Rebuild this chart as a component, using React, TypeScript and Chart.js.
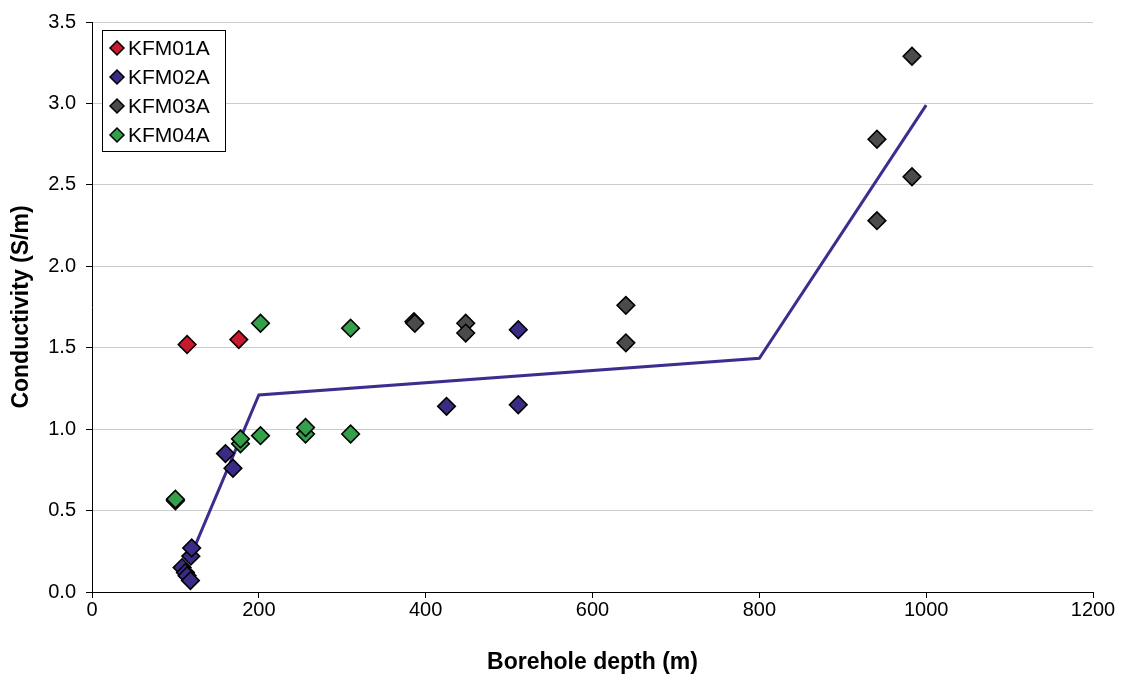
import React, { useEffect, useRef } from "react";
import { Chart, registerables } from "chart.js";

Chart.register(...registerables);

// Borehole conductivity measurements, depth in metres and conductivity in S/m
const kfm01aDepth = [114, 176];
const kfm01aCond = [1.52, 1.55];

const kfm02aDepth = [108, 112, 114, 118, 118.5, 119.5, 160, 169, 425, 511, 511];
const kfm02aCond = [0.15, 0.12, 0.1, 0.07, 0.22, 0.27, 0.85, 0.76, 1.14, 1.15, 1.61];

const kfm03aDepth = [386, 387, 448, 448, 640, 640, 941, 941, 983, 983];
const kfm03aCond = [1.66, 1.65, 1.65, 1.59, 1.76, 1.53, 2.78, 2.28, 3.29, 2.55];

const kfm04aDepth = [100, 100, 178, 178, 202, 202, 256, 256, 310, 310];
const kfm04aCond = [0.56, 0.57, 0.91, 0.94, 0.96, 1.65, 0.97, 1.01, 0.97, 1.62];

// Piecewise trend line
const trendDepth = [120, 200, 800, 1000];
const trendCond = [0.24, 1.21, 1.435, 2.99];

const xTicks = [0, 200, 400, 600, 800, 1000, 1200];
const yTicks = [0, 0.5, 1.0, 1.5, 2.0, 2.5, 3.0, 3.5];

const seriesNames = ["KFM01A", "KFM02A", "KFM03A", "KFM04A"];
const seriesColors = ["#c8192f", "#3b2a86", "#4b4b4b", "#35a04a"];

const FONT = "'Liberation Sans', Arial, sans-serif";

const toPoints = (xs: number[], ys: number[]) => xs.map((x, i) => ({ x, y: ys[i] }));

const diamondLegend = {
  id: "diamondLegend",
  afterDraw(chart: any) {
    const { ctx, chartArea } = chart;
    const left = chartArea.left + 10;
    const top = chartArea.top + 8;
    const w = 123;
    const h = 121;
    ctx.save();
    ctx.fillStyle = "#ffffff";
    ctx.fillRect(left, top, w, h);
    ctx.strokeStyle = "#000000";
    ctx.lineWidth = 1;
    ctx.strokeRect(left + 0.5, top + 0.5, w, h);
    ctx.font = `21px ${FONT}`;
    ctx.textBaseline = "middle";
    seriesNames.forEach((name, i) => {
      const cy = top + 18 + i * 29;
      const cx = left + 15;
      const r = 7;
      ctx.beginPath();
      ctx.moveTo(cx - r, cy);
      ctx.lineTo(cx, cy - r);
      ctx.lineTo(cx + r, cy);
      ctx.lineTo(cx, cy + r);
      ctx.closePath();
      ctx.fillStyle = seriesColors[i];
      ctx.fill();
      ctx.lineWidth = 1.5;
      ctx.strokeStyle = "#000000";
      ctx.stroke();
      ctx.fillStyle = "#000000";
      ctx.fillText(name, left + 26, cy + 1);
    });
    ctx.restore();
  },
};

export default function App() {
  const canvasRef = useRef<HTMLCanvasElement | null>(null);

  useEffect(() => {
    if (!canvasRef.current) return;
    const pointStyle = (i: number) => ({
      pointStyle: "rectRot" as const,
      pointRadius: 8.8,
      pointHoverRadius: 8.8,
      pointBackgroundColor: seriesColors[i],
      pointBorderColor: "#000000",
      pointBorderWidth: 1.6,
      backgroundColor: seriesColors[i],
      borderColor: "#000000",
      showLine: false,
    });
    const chart = new Chart(canvasRef.current, {
      type: "scatter",
      data: {
        datasets: [
          {
            label: "Trend",
            data: toPoints(trendDepth, trendCond),
            showLine: true,
            borderColor: "#3d2d8f",
            borderWidth: 3,
            pointRadius: 0,
            order: 5,
          },
          { label: seriesNames[0], data: toPoints(kfm01aDepth, kfm01aCond), order: 4, ...pointStyle(0) },
          { label: seriesNames[1], data: toPoints(kfm02aDepth, kfm02aCond), order: 3, ...pointStyle(1) },
          { label: seriesNames[2], data: toPoints(kfm03aDepth, kfm03aCond), order: 2, ...pointStyle(2) },
          { label: seriesNames[3], data: toPoints(kfm04aDepth, kfm04aCond), order: 1, ...pointStyle(3) },
        ],
      },
      options: {
        responsive: false,
        animation: false,
        layout: { padding: { left: 0, top: 19, right: 28, bottom: 0 } },
        plugins: {
          legend: { display: false },
          tooltip: { enabled: false },
        },
        scales: {
          x: {
            type: "linear",
            min: 0,
            max: 1200,
            afterBuildTicks: (scale: any) => {
              scale.ticks = xTicks.map((v) => ({ value: v }));
            },
            afterFit: (scale: any) => {
              scale.height = 85;
            },
            ticks: {
              color: "#000000",
              font: { family: FONT, size: 20 },
              padding: 0,
              maxRotation: 0,
              callback: (v: any) => String(v),
            },
            grid: {
              drawOnChartArea: false,
              drawTicks: true,
              tickLength: 6,
              tickColor: "#000000",
            },
            border: { color: "#000000", width: 1 },
            title: {
              display: true,
              text: "Borehole depth (m)",
              color: "#000000",
              font: { family: FONT, size: 23, weight: "bold" },
              padding: { top: 1, bottom: 1 },
            },
          },
          y: {
            type: "linear",
            min: 0,
            max: 3.5,
            afterBuildTicks: (scale: any) => {
              scale.ticks = yTicks.map((v) => ({ value: v }));
            },
            afterFit: (scale: any) => {
              scale.width = 92;
            },
            ticks: {
              color: "#000000",
              font: { family: FONT, size: 20 },
              padding: 10,
              callback: (v: any) => Number(v).toFixed(1),
            },
            grid: {
              color: "#cccccc",
              lineWidth: 1,
              drawTicks: true,
              tickLength: 6,
              tickColor: "#000000",
            },
            border: { color: "#000000", width: 1 },
            title: {
              display: true,
              text: "Conductivity (S/m)",
              color: "#000000",
              font: { family: FONT, size: 23, weight: "bold" },
              padding: { top: 8, bottom: 8 },
            },
          },
        },
      },
      plugins: [diamondLegend],
    });
    return () => chart.destroy();
  }, []);

  return (
    <div style={{ position: "fixed", left: 0, top: 0, width: 1121, height: 677, background: "#ffffff" }}>
      <canvas ref={canvasRef} width={1121} height={677} />
    </div>
  );
}
